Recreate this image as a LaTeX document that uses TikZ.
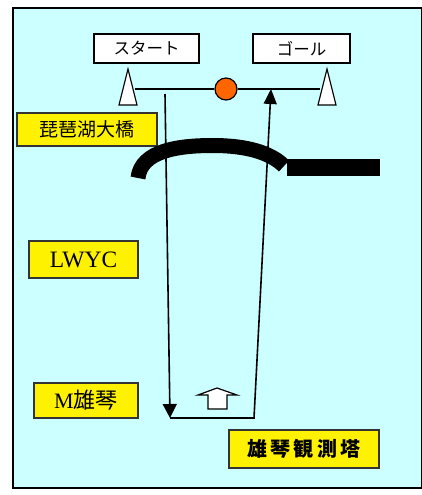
\documentclass[tikz,border=0pt]{standalone}
\usepackage{fontspec}
\setmainfont{Liberation Serif}
\newfontfamily\jp{Noto Sans CJK JP}
\usetikzlibrary{positioning, arrows.meta, calc}

\begin{document}
\begin{tikzpicture}[x=1pt, y=-1pt, thick,
    sign/.style = {draw, fill=white, line width=1.2pt, inner sep=0pt, minimum height=29pt, font=\jp\fontsize{16.5}{16.5}\selectfont},
    place/.style = {draw=black!80, fill=yellow, line width=1.3pt, inner sep=0pt, font=\fontsize{22}{22}\selectfont},
    buoy/.style = {draw, fill=white, line width=1.2pt},
    route/.style = {line width=1.6pt}]
            \useasboundingbox (0,0) rectangle (422,495);
            \draw[line width=1.6pt, fill={rgb,255:red,204;green,255;blue,255}] (13,8) rectangle (421.5,488);
            % signs and places
            \node[sign, minimum width=105pt] (start) at (146.5,48.5) {スタート};
            \node[sign, minimum width=97pt] (goal) at (301.5,48.5) {ゴール};
            \node[place, minimum width=140pt, minimum height=33pt, font=\jp\fontsize{19}{19}\selectfont] (bridge) at (87,129.5) {琵琶湖大橋\hspace{6pt}};
            \node[place, minimum width=109pt, minimum height=37pt, font=\fontsize{23.5}{23.5}\selectfont] (lwyc) at (83.5,259.5) {LWYC\hspace{5pt}};
            \node[place, minimum width=104pt, minimum height=35pt] (mogoto) at (86,400.5) {M{\jp 雄琴}\hspace{4pt}};
            \node[place, minimum width=150pt, minimum height=38pt, font=\jp\bfseries\fontsize{20}{20}\selectfont] (tower) at (304,449) {雄\,琴\,観\,測\,塔\hspace{5pt}};
            % start line
            \draw[buoy] (119,105) -- (128,69) -- (137,105) -- cycle;
            \draw[buoy] (318,105) -- (327,69) -- (336,105) -- cycle;
            \coordinate (lineL) at (135,89);
            \coordinate (lineR) at (320,89);
            \node[draw, circle, fill={rgb,255:red,255;green,102;blue,0}, line width=1.2pt, minimum size=22pt, inner sep=0pt] (boat) at (226,89) {};
            \draw[line width=1.4pt] (lineL) -- (boat) -- (lineR);
            % bridge
            \draw[line width=15pt] (138,178) .. controls (141,150) and (180,145.5) .. (213,145.5) .. controls (245,145.5) and (270,152) .. (284,166);
            \fill (287,159) rectangle (380,176);
            % course
            \coordinate (c1) at (165,94);
            \coordinate (c2) at (170,418);
            \coordinate (c3) at (254,418);
            \coordinate (c4) at (271,89);
            \draw[route, -{Triangle[width=14pt, length=14pt]}] (c1) -- (c2);
            \draw[route, -{Triangle[width=13pt, length=15pt]}] (c2) -- (c3) -- (c4);
            % wind
            \draw[buoy, line join=miter] (208,409) -- (208,395) -- (198,395) -- (217,388) -- (237,395) -- (227,395) -- (227,409) -- cycle;
\end{tikzpicture}
\end{document}
